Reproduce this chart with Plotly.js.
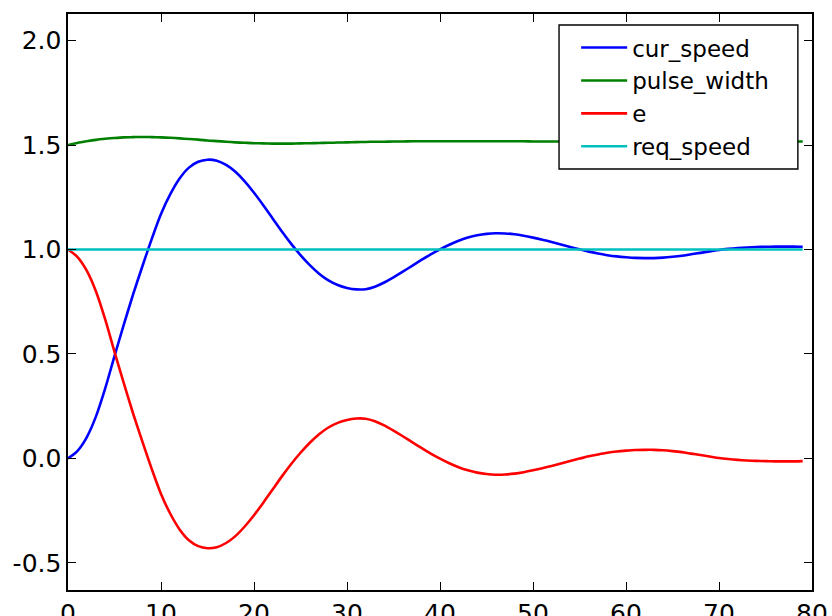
<!DOCTYPE html>
<html>
<head>
<meta charset="utf-8">
<script src="https://cdn.plot.ly/plotly-3.0.1.min.js"></script>
<style>html,body{margin:0;padding:0;background:#fff;}#chart{width:832px;height:616px;}</style>
</head>
<body>
<div id="chart"></div>
<script>
const t = [0,1,2,3,4,5,6,7,8,9,10,11,12,13,14,15,16,17,18,19,20,21,22,23,24,25,26,27,28,29,30,31,32,33,34,35,36,37,38,39,40,41,42,43,44,45,46,47,48,49,50,51,52,53,54,55,56,57,58,59,60,61,62,63,64,65,66,67,68,69,70,71,72,73,74,75,76,77,78,79];
const curSpeed = [0.000,0.035,0.100,0.200,0.335,0.490,0.640,0.785,0.920,1.050,1.170,1.265,1.340,1.392,1.420,1.430,1.425,1.405,1.372,1.326,1.272,1.212,1.149,1.086,1.027,0.973,0.925,0.884,0.852,0.830,0.816,0.809,0.810,0.822,0.842,0.867,0.894,0.922,0.950,0.977,1.001,1.023,1.042,1.057,1.068,1.075,1.078,1.077,1.073,1.066,1.057,1.047,1.036,1.024,1.012,1.001,0.990,0.981,0.973,0.967,0.963,0.960,0.959,0.959,0.961,0.965,0.970,0.977,0.984,0.991,0.998,1.003,1.007,1.010,1.012,1.013,1.014,1.014,1.014,1.013];
const pulseWidth = [1.500,1.510,1.518,1.525,1.530,1.534,1.537,1.538,1.539,1.538,1.537,1.535,1.532,1.529,1.526,1.522,1.519,1.516,1.513,1.511,1.509,1.508,1.507,1.507,1.507,1.508,1.509,1.510,1.511,1.512,1.513,1.514,1.515,1.516,1.516,1.517,1.517,1.518,1.518,1.518,1.518,1.518,1.518,1.518,1.518,1.518,1.518,1.518,1.518,1.518,1.517,1.517,1.517,1.517,1.517,1.517,1.517,1.517,1.517,1.517,1.517,1.517,1.517,1.517,1.517,1.517,1.517,1.517,1.517,1.517,1.517,1.517,1.517,1.517,1.517,1.517,1.517,1.517,1.517,1.517];
const e = [1.000,0.965,0.900,0.800,0.665,0.510,0.360,0.215,0.080,-0.050,-0.170,-0.265,-0.340,-0.392,-0.420,-0.430,-0.425,-0.405,-0.372,-0.326,-0.272,-0.212,-0.149,-0.086,-0.027,0.027,0.075,0.116,0.148,0.170,0.184,0.191,0.190,0.178,0.158,0.133,0.106,0.078,0.050,0.023,-0.001,-0.023,-0.042,-0.057,-0.068,-0.075,-0.078,-0.077,-0.073,-0.066,-0.057,-0.047,-0.036,-0.024,-0.012,-0.001,0.010,0.019,0.027,0.033,0.037,0.040,0.041,0.041,0.039,0.035,0.030,0.023,0.016,0.009,0.002,-0.003,-0.007,-0.010,-0.012,-0.013,-0.014,-0.014,-0.014,-0.013];
const reqSpeed = [1,1,1,1,1,1,1,1,1,1,1,1,1,1,1,1,1,1,1,1,1,1,1,1,1,1,1,1,1,1,1,1,1,1,1,1,1,1,1,1,1,1,1,1,1,1,1,1,1,1,1,1,1,1,1,1,1,1,1,1,1,1,1,1,1,1,1,1,1,1,1,1,1,1,1,1,1,1,1,1];
const seriesNames = ["cur_speed","pulse_width","e","req_speed"];
const xTickVals = [0,10,20,30,40,50,60,70,80];
const xTickText = ["0","10","20","30","40","50","60","70","80"];
const yTickVals = [-0.5,0,0.5,1.0,1.5,2.0];
const yTickText = ["-0.5","0.0","0.5","1.0","1.5","2.0"];

const colors = ["#0000ff","#008000","#ff0000","#00bfbf"];
const ys = [curSpeed, pulseWidth, e, reqSpeed];
const traces = ys.map((y,i)=>({
  x: t, y: y, name: seriesNames[i], type: "scatter", mode: "lines",
  line: {color: colors[i], width: 2.6, shape: "spline", smoothing: 0.8}
}));

const font = {family: "DejaVu Sans, sans-serif", size: 25, color: "#000"};
const axisCommon = {
  showgrid: false, zeroline: false, showline: true, linecolor: "#000", linewidth: 1.6,
  mirror: "ticks", ticks: "inside", ticklen: 8, tickcolor: "#000", tickwidth: 1,
  tickfont: font, tickmode: "array"
};
const layout = {
  width: 832, height: 616,
  margin: {l: 68, r: 20, t: 14, b: 26},
  paper_bgcolor: "#fff", plot_bgcolor: "#fff",
  font: font,
  showlegend: true,
  legend: {
    x: 0.683, y: 0.979, xanchor: "left", yanchor: "top",
    bgcolor: "rgba(0,0,0,0)", borderwidth: 0,
    font: {family: "DejaVu Sans, sans-serif", size: 23, color: "#000"},
    tracegroupgap: 0, itemwidth: 46
  },
  shapes: [{
    type: "rect", xref: "paper", yref: "paper",
    x0: 0.660, x1: 0.981, y0: 0.731, y1: 0.981,
    fillcolor: "#fff", line: {color: "#000", width: 1.4}, layer: "above"
  }],
  xaxis: Object.assign({}, axisCommon, {range: [0, 80], tickvals: xTickVals, ticktext: xTickText}),
  yaxis: Object.assign({}, axisCommon, {range: [-0.63, 2.1275], tickvals: yTickVals, ticktext: yTickText})
};
Plotly.newPlot("chart", traces, layout, {displayModeBar: false, staticPlot: true});
</script>
</body>
</html>
